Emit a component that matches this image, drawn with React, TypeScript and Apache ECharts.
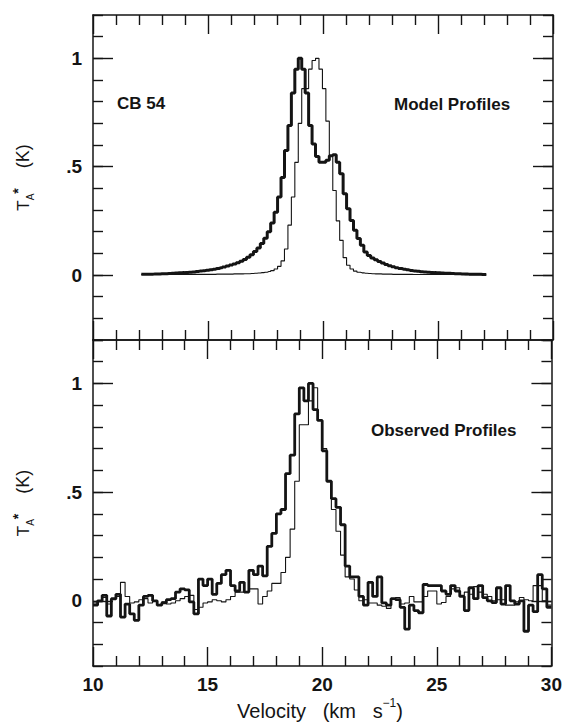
import React, { useEffect, useRef } from "react";
import * as echarts from "echarts";

// ---------- data ----------
// Model profiles: channel centres start at MODEL_V0, spaced MODEL_DV (km/s)
const MODEL_V0 = 12.1;
const MODEL_DV = 0.15;
const modelThick = [
  0.003, 0.003, 0.004, 0.004, 0.005, 0.005, 0.006, 0.006, 0.007, 0.008,
  0.009, 0.010, 0.011, 0.012, 0.013, 0.014, 0.016, 0.018, 0.020, 0.022,
  0.024, 0.027, 0.030, 0.033, 0.037, 0.041, 0.046, 0.051, 0.057, 0.064,
  0.072, 0.082, 0.094, 0.108, 0.125, 0.145, 0.170, 0.200, 0.240, 0.290,
  0.360, 0.450, 0.575, 0.690, 0.840, 0.950, 1.000, 0.950, 0.840, 0.690,
  0.605, 0.547, 0.520, 0.520, 0.530, 0.550, 0.555, 0.520, 0.467, 0.375,
  0.306, 0.252, 0.206, 0.168, 0.137, 0.106, 0.090, 0.079, 0.070, 0.062,
  0.055, 0.048, 0.043, 0.038, 0.034, 0.030, 0.027, 0.024, 0.021, 0.019,
  0.017, 0.015, 0.014, 0.013, 0.012, 0.011, 0.010, 0.009, 0.008, 0.008,
  0.007, 0.006, 0.006, 0.005, 0.005, 0.004, 0.004, 0.003, 0.003, 0.002,
  0.002,
];
const modelThin = [
  0.002, 0.002, 0.002, 0.002, 0.002, 0.002, 0.002, 0.002, 0.002, 0.002,
  0.002, 0.002, 0.003, 0.003, 0.003, 0.003, 0.003, 0.003, 0.003, 0.003,
  0.003, 0.003, 0.004, 0.004, 0.004, 0.004, 0.004, 0.005, 0.005, 0.005,
  0.006, 0.006, 0.007, 0.008, 0.009, 0.011, 0.013, 0.016, 0.020, 0.028,
  0.040, 0.065, 0.120, 0.230, 0.360, 0.520, 0.700, 0.860, 0.860, 0.950,
  0.990, 1.000, 0.950, 0.860, 0.710, 0.550, 0.390, 0.250, 0.160, 0.080,
  0.045, 0.028, 0.018, 0.013, 0.010, 0.008, 0.007, 0.006, 0.005, 0.005,
  0.004, 0.004, 0.004, 0.003, 0.003, 0.003, 0.003, 0.003, 0.003, 0.002,
  0.002, 0.002, 0.002, 0.002, 0.002, 0.002, 0.002, 0.002, 0.002, 0.002,
  0.002, 0.002, 0.002, 0.002, 0.001, 0.001, 0.001, 0.001, 0.001, 0.001,
  0.001,
];

// Observed profiles: channel left edges start at OBS_V0, width OBS_DV (km/s)
const OBS_V0 = 10;
const OBS_DV = 0.2;
const observedThick = [
  -0.02, 0.0, 0.025, -0.07, 0.01, 0.03, -0.075, -0.015, -0.06, -0.09,
  -0.02, 0.02, 0.025, 0.0, -0.02, -0.01, 0.005, 0.01, 0.04, 0.055,
  0.05, -0.005, -0.06, 0.1, 0.07, 0.1, 0.03, 0.08, 0.12, 0.14,
  0.07, 0.045, 0.085, 0.04, 0.14, 0.12, 0.16, 0.115, 0.25, 0.31,
  0.4, 0.42, 0.585, 0.67, 0.86, 0.98, 0.92, 1.0, 0.88, 0.83,
  0.69, 0.55, 0.47, 0.43, 0.35, 0.16, 0.11, 0.11, 0.02, -0.02,
  0.085, 0.02, 0.11, -0.01, -0.02, 0.01, 0.005, -0.03, -0.13, -0.02,
  -0.045, -0.055, 0.075, 0.07, 0.07, 0.07, 0.045, 0.03, 0.07, 0.045,
  0.02, -0.045, 0.06, 0.01, 0.07, 0.015, 0.0, -0.008, 0.06, -0.015,
  0.07, 0.0, -0.015, 0.0, -0.14, -0.02, -0.05, 0.12, 0.055, -0.03,
];
const observedThin = [
  -0.01, 0.0, 0.015, -0.015, 0.005, 0.02, 0.085, 0.02, -0.01, -0.005,
  0.005, 0.01, -0.01, 0.0, -0.02, -0.005, -0.015, -0.01, 0.0, 0.01,
  0.02, 0.025, -0.04, -0.03, -0.01, -0.005, 0.005, 0.0, -0.005, 0.005,
  0.02, 0.04, 0.04, 0.04, 0.055, 0.055, -0.015, 0.02, 0.045, 0.08,
  0.08, 0.13, 0.2, 0.33, 0.55, 0.81, 0.81, 0.92, 0.98, 0.83,
  0.7, 0.55, 0.42, 0.32, 0.21, 0.11, 0.1, 0.05, 0.0, 0.005,
  -0.01, -0.01, -0.02, -0.025, -0.035, 0.01, 0.015, -0.015, -0.01, 0.02,
  -0.005, -0.005, 0.02, 0.045, 0.045, -0.015, -0.008, 0.02, 0.055, 0.06,
  0.025, 0.04, 0.03, 0.065, 0.04, 0.03, 0.02, 0.0, 0.005, 0.005,
  -0.02, -0.02, -0.005, 0.015, 0.005, 0.0, 0.07, 0.07, 0.0, -0.02,
];

const X_MIN = 10;
const X_MAX = 30;
const X_MAJOR = 5;
const Y_MIN = -0.3;
const Y_MAX = 1.2;
const Y_MINOR = 0.1;
const yLabelValues = [0, 0.5, 1];
const yLabelTexts = ["0", ".5", "1"];
const xLabelValues = [10, 15, 20, 25, 30];

// ---------- helpers ----------
const FONT = '"Liberation Sans", Arial, Helvetica, sans-serif';
const INK = "#141414";

const modelPoints = (vals: number[]) =>
  vals.map((t, i) => [+(MODEL_V0 + i * MODEL_DV).toFixed(3), t]);
const obsPoints = (vals: number[]) => {
  const pts = vals.map((t, i) => [+(OBS_V0 + i * OBS_DV).toFixed(3), t]);
  pts.push([X_MAX, vals[vals.length - 1]]);
  return pts;
};

function xAxesFor(g: number, labels: boolean) {
  const base = (position: "bottom" | "top", showLabel: boolean) => ({
    type: "value",
    gridIndex: g,
    position,
    min: X_MIN,
    max: X_MAX,
    interval: X_MAJOR,
    axisLine: { show: true, onZero: false, lineStyle: { color: INK, width: 1.5 } },
    axisTick: { show: true, inside: true, length: 19, lineStyle: { color: INK, width: 1.4 } },
    minorTick: { show: true, splitNumber: 5, length: 10, lineStyle: { color: INK, width: 1.4 } },
    axisLabel: {
      show: showLabel,
      margin: 9,
      fontSize: 19,
      fontWeight: "bold",
      fontFamily: FONT,
      color: INK,
      customValues: xLabelValues,
    },
    splitLine: { show: false },
    minorSplitLine: { show: false },
  });
  return [base("bottom", labels), base("top", false)];
}

const yTitleRich = {
  t: { fontSize: 17, fontFamily: FONT, color: INK, lineHeight: 24 },
  s: { fontSize: 10, fontFamily: FONT, color: INK, lineHeight: 10, verticalAlign: "bottom" },
  p: { fontSize: 14, fontWeight: "bold", fontFamily: FONT, color: INK, lineHeight: 12, verticalAlign: "top" },
  k: { fontSize: 18, fontFamily: FONT, color: INK, lineHeight: 24 },
};

function yAxesFor(g: number) {
  const minor = (position: "left" | "right") => ({
    type: "value",
    gridIndex: g,
    position,
    min: Y_MIN,
    max: Y_MAX,
    interval: Y_MINOR,
    axisLine: { show: true, onZero: false, lineStyle: { color: INK, width: 1.5 } },
    axisTick: { show: true, inside: true, length: 10, lineStyle: { color: INK, width: 1.4 } },
    axisLabel: { show: false },
    splitLine: { show: false },
  });
  const major = (position: "left" | "right", showLabel: boolean) => ({
    type: "value",
    gridIndex: g,
    position,
    min: Y_MIN,
    max: Y_MAX,
    interval: Y_MINOR,
    name: showLabel ? "{t|T}{s|A}{p|*}{k|    (K)}" : "",
    nameLocation: "middle",
    nameRotate: 90,
    nameGap: 58,
    nameTextStyle: { rich: yTitleRich },
    axisLine: { show: false, onZero: false },
    axisTick: {
      show: true,
      inside: true,
      length: 20,
      customValues: yLabelValues,
      lineStyle: { color: INK, width: 1.4 },
    },
    axisLabel: {
      show: showLabel,
      customValues: yLabelValues,
      margin: 11,
      fontSize: 19,
      fontWeight: "bold",
      fontFamily: FONT,
      color: INK,
      formatter: (v: number) => {
        const idx = yLabelValues.findIndex((x) => Math.abs(x - v) < 1e-6);
        return idx >= 0 ? yLabelTexts[idx] : "";
      },
    },
    splitLine: { show: false },
  });
  return [minor("left"), major("left", true), minor("right"), major("right", false)];
}

export default function App() {
  const ref = useRef<HTMLDivElement>(null);
  useEffect(() => {
    if (!ref.current) return;
    const chart = echarts.init(ref.current, undefined, { renderer: "svg" });
    const lineCommon = {
      type: "line",
      showSymbol: false,
      symbol: "none",
      clip: true,
      silent: true,
    };
    chart.setOption({
      animation: false,
      backgroundColor: "#ffffff",
      textStyle: { fontFamily: FONT },
      grid: [
        { left: 93, top: 15, width: 460, height: 325 },
        { left: 93, top: 340, width: 460, height: 326 },
      ],
      xAxis: [...xAxesFor(0, false), ...xAxesFor(1, true)],
      yAxis: [...yAxesFor(0), ...yAxesFor(1)],
      series: [
        { ...lineCommon, name: "Model thin", xAxisIndex: 0, yAxisIndex: 0, step: "middle", data: modelPoints(modelThin), lineStyle: { color: INK, width: 1.1 } },
        { ...lineCommon, name: "Model thick", xAxisIndex: 0, yAxisIndex: 0, step: "middle", data: modelPoints(modelThick), lineStyle: { color: INK, width: 3 } },
        { ...lineCommon, name: "Observed thin", xAxisIndex: 2, yAxisIndex: 4, step: "end", data: obsPoints(observedThin), lineStyle: { color: INK, width: 1.1 } },
        { ...lineCommon, name: "Observed thick", xAxisIndex: 2, yAxisIndex: 4, step: "end", data: obsPoints(observedThick), lineStyle: { color: INK, width: 2.8 } },
      ],
      graphic: [
        { type: "text", x: 117, y: 103, style: { text: "CB 54", font: `bold 17px ${FONT}`, fill: INK, align: "left", verticalAlign: "middle" } },
        { type: "text", x: 394, y: 104, style: { text: "Model Profiles", font: `bold 17px ${FONT}`, fill: INK, align: "left", verticalAlign: "middle" } },
        { type: "text", x: 371, y: 430, style: { text: "Observed Profiles", font: `bold 17px ${FONT}`, fill: INK, align: "left", verticalAlign: "middle" } },
        {
          type: "text",
          x: 320,
          y: 711,
          style: {
            text: "{a|Velocity   (km   s}{b|−1}{a|)}",
            align: "center",
            verticalAlign: "middle",
            rich: {
              a: { fontSize: 20, fontFamily: FONT, fill: INK, lineHeight: 28 },
              b: { fontSize: 12, fontFamily: FONT, fill: INK, lineHeight: 12, verticalAlign: "top" },
            },
          },
        },
      ],
    });
    return () => chart.dispose();
  }, []);
  return (
    <div
      ref={ref}
      style={{ position: "absolute", left: 0, top: 0, width: 565, height: 723, background: "#fff" }}
    />
  );
}
